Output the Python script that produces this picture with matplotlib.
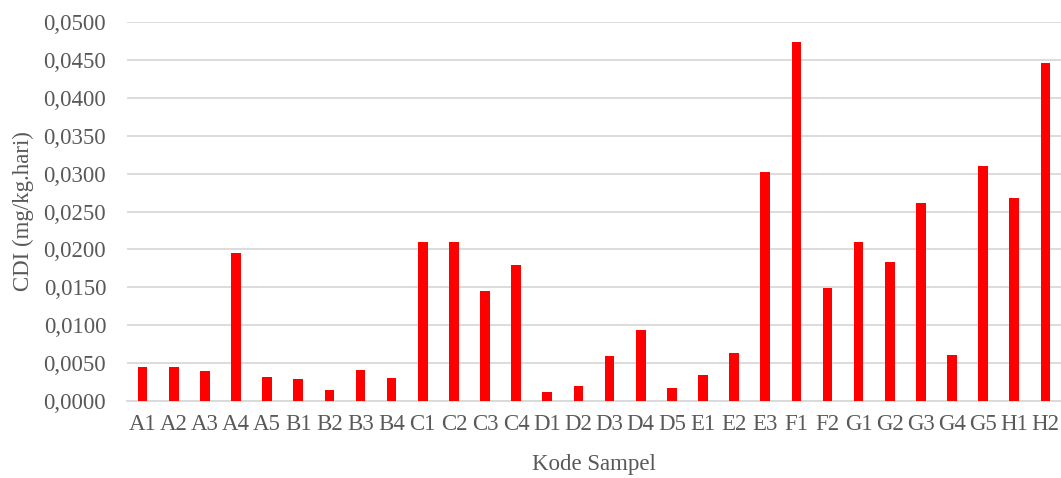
import matplotlib.pyplot as plt
from matplotlib.ticker import FuncFormatter, MultipleLocator

kode = ["A1", "A2", "A3", "A4", "A5", "B1", "B2", "B3", "B4",
        "C1", "C2", "C3", "C4", "D1", "D2", "D3", "D4", "D5",
        "E1", "E2", "E3", "F1", "F2", "G1", "G2", "G3", "G4", "G5",
        "H1", "H2"]
cdi = [0.00445, 0.00445, 0.0040, 0.0195, 0.0032, 0.0029, 0.0014, 0.0041, 0.0030,
       0.0210, 0.0210, 0.01445, 0.0180, 0.00115, 0.0020, 0.00595, 0.0094, 0.0017,
       0.0034, 0.0063, 0.0302, 0.0474, 0.0149, 0.0210, 0.0184, 0.0261, 0.0061, 0.0310,
       0.0268, 0.0446]

plt.rcParams['font.family'] = ['Liberation Serif', 'DejaVu Serif']
grey = '#595959'
fs = 16.5

fig = plt.figure(figsize=(10.61, 4.78), dpi=100)
ax = fig.add_axes([0.1197, 0.161, 0.8803, 0.793])

x = range(len(kode))
ax.bar(x, cdi, width=0.31, color='#ff0000', zorder=3)

ax.set_ylim(0, 0.05)
ax.set_xlim(-0.5, len(kode) - 0.5)
ax.yaxis.set_major_locator(MultipleLocator(0.005))
ax.yaxis.set_major_formatter(FuncFormatter(lambda v, p: f"{v:.4f}".replace('.', ',')))
ax.set_xticks(list(x))
ax.set_xticklabels(kode)

ax.grid(axis='y', color='#d9d9d9', linewidth=1.3, zorder=0)
for s in ['top', 'right', 'left']:
    ax.spines[s].set_visible(False)
ax.spines['bottom'].set_color('#d9d9d9')
ax.spines['bottom'].set_linewidth(1.3)
ax.tick_params(axis='both', length=0, labelsize=fs, labelcolor=grey)
ax.tick_params(axis='y', pad=15)
ax.tick_params(axis='x', pad=9)

ax.set_ylabel("CDI (mg/kg.hari)", fontsize=fs, color=grey, labelpad=7)
ax.set_xlabel("Kode Sampel", fontsize=fs, color=grey, labelpad=14)

fig.savefig("out.png", dpi=100)
